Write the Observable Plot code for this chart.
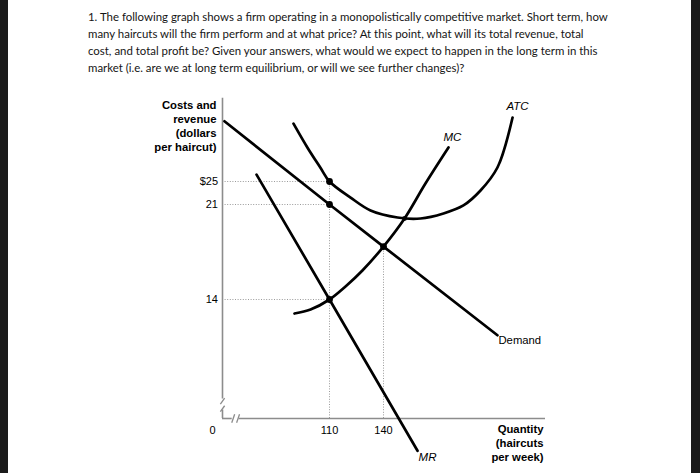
<!DOCTYPE html>
<html><head><meta charset="utf-8">
<script src="https://cdn.jsdelivr.net/npm/d3@7"></script>
<script src="https://cdn.jsdelivr.net/npm/@observablehq/plot@0.6"></script>
<style>
html,body{margin:0;padding:0;background:#1b1b1b;}
#page{position:relative;width:700px;height:473px;overflow:hidden;background:#1b1b1b;}
#panel{position:absolute;left:8px;top:0;width:683px;height:473px;background:#fff;}
#q{position:absolute;left:88px;top:0;font-family:Lato,sans-serif;color:#151515;white-space:nowrap;}
#q div{position:absolute;left:0;}
#chart{position:absolute;left:0;top:90px;}
#chart svg{font-family:"Liberation Sans",Arial,sans-serif;}
</style></head><body>
<div id="page"><div id="panel"></div><div id="q"></div><div id="chart"></div></div>
<script>
// ---- text ----
const questionLines = [
  "1. The following graph shows a firm operating in a monopolistically competitive market. Short term, how",
  "many haircuts will the firm perform and at what price? At this point, what will its total revenue, total",
  "cost, and total profit be? Given your answers, what would we expect to happen in the long term in this",
  "market (i.e. are we at long term equilibrium, or will we see further changes)?"
];
const yTitle = "Costs and\nrevenue\n(dollars\nper haircut)";
const xTitle = "Quantity\n(haircuts\nper week)";

// ---- ticks (graph is not drawn to scale: piecewise axes) ----
const yTicks = [14, 21, 25];
const xTicks = [110, 140];
const yBreaks = [0, 14, 21, 25, 40];
const xBreaks = [0, 110, 140, 230];

// ---- curves (quantity, price) ----
const demandQ = [2, 110, 140, 203.3];
const demandP = [35.5, 21, 17.9, 9.8];
const mrQ = [35, 110, 158.9];
const mrP = [26.2, 14, -3.8];
const mcQ = [74.0, 90.5, 110, 118.9, 128.3, 140, 151.7, 163.3, 176.1];
const mcP = [12.35, 12.82, 14, 14.96, 16.14, 17.9, 19.97, 24.65, 30.93];
const atcQ = [73.0, 87.4, 100.7, 110, 121.7, 132.8, 147.8, 160.6, 173.3, 184.4, 193.9, 203.3, 211.7];
const atcP = [35.1, 30.9, 27.4, 25, 22.2, 20.56, 20.04, 19.97, 20.34, 20.93, 23.43, 27.44, 36.16];
const keyQ = [110, 110, 110, 140, 151.7];
const keyP = [25, 21, 14, 17.9, 19.97];

const toRows = (qs, ps) => qs.map((q, i) => ({q, p: ps[i]}));
const demand = toRows(demandQ, demandP);
const mr = toRows(mrQ, mrP);
const mc = toRows(mcQ, mcP);
const atc = toRows(atcQ, atcP);
const keys = toRows(keyQ, keyP);

// question text
const qDiv = document.getElementById("q");
const cv = document.createElement("canvas").getContext("2d");
cv.font = "100px Lato";
const w0 = cv.measureText(questionLines[0]).width;
const fs = 100 * 521 / w0;
const lineTops = [17, 34, 51, 68];
questionLines.forEach((t, i) => {
  const d = document.createElement("div");
  d.textContent = t;
  d.style.fontSize = fs + "px";
  d.style.lineHeight = "1";
  d.style.top = (lineTops[i] - fs * 0.55) + "px";
  qDiv.appendChild(d);
});

const axisColor = "#8c8c8c";
const gridStyle = {stroke: "#9a9a9a", strokeWidth: 1, strokeDasharray: "1,1.6"};
const curveStyle = {x: "q", y: "p", stroke: "#000", strokeWidth: 2.7};

const chart = Plot.plot({
  width: 700,
  height: 383,
  marginLeft: 222,
  marginRight: 155,
  marginTop: 5,
  marginBottom: 55,
  x: {type: "linear", domain: xBreaks, range: [222, 329, 383, 545]},
  y: {type: "linear", domain: yBreaks, range: [328, 209, 114, 91, 5]},
  marks: [
    // dotted guides
    Plot.ruleY(yTicks, {y: d => d, x1: 0, x2: 110, ...gridStyle}),
    Plot.ruleX([{q: 110, p: 25}, {q: 140, p: 17.9}], {x: "q", y1: 0, y2: "p", ...gridStyle}),
    // axes with breaks
    Plot.ruleX([0], {y1: 0, y2: 1.0, stroke: axisColor, strokeWidth: 1.6}),
    Plot.ruleX([0], {y1: 2.3, y2: 39.5, stroke: axisColor, strokeWidth: 1.6}),
    Plot.ruleY([0], {x1: 0, x2: 10, stroke: axisColor, strokeWidth: 1.6}),
    Plot.ruleY([0], {x1: 17, x2: 230, stroke: axisColor, strokeWidth: 1.6}),
    Plot.link([{a: -2.2, b: 2.2, c: 0.8, d: 1.5}, {a: -2.2, b: 2.2, c: 1.7, d: 2.4}],
      {x1: "a", x2: "b", y1: "c", y2: "d", stroke: axisColor, strokeWidth: 1.3}),
    Plot.link([{a: 9.5, b: 12.5, c: -0.5, d: 0.5}, {a: 14.5, b: 17.5, c: -0.5, d: 0.5}],
      {x1: "a", x2: "b", y1: "c", y2: "d", stroke: axisColor, strokeWidth: 1.3}),
    // curves
    Plot.line(demand, curveStyle),
    Plot.line(mr, curveStyle),
    Plot.line(mc, {...curveStyle, curve: "catmull-rom"}),
    Plot.line(atc, {...curveStyle, curve: "catmull-rom"}),
    Plot.dot(keys.slice(0, 4), {x: "q", y: "p", r: 3.4, fill: "#000"}),
    Plot.dot(keys.slice(4), {x: "q", y: "p", r: 2.4, fill: "#000"}),
    // tick labels
    Plot.axisY({ticks: yTicks, tickSize: 0, tickPadding: 4.5, fontSize: 11, tickFormat: d => d === 25 ? "$25" : String(d)}),
    Plot.axisX({ticks: xTicks, tickSize: 0, tickPadding: 8, fontSize: 11}),
    Plot.text([{q: 0, p: 0}], {x: "q", y: "p", text: () => "0", dx: -10, dy: 12, fontSize: 11}),
    // titles
    Plot.text([{q: 0, p: 39.5}], {x: "q", y: "p", text: () => yTitle, textAnchor: "end", lineAnchor: "top", dx: -6, dy: 1, fontSize: 11.3, fontWeight: "bold", lineHeight: 1.22}),
    Plot.text([{q: 230, p: 0}], {x: "q", y: "p", text: () => xTitle, textAnchor: "end", lineAnchor: "top", dx: -2, dy: 5, fontSize: 11.3, fontWeight: "bold", lineHeight: 1.24}),
    // curve labels
    Plot.text(atc.slice(-1), {x: "q", y: "p", text: () => "ATC", dx: 5, dy: -11, fontSize: 11.5, fontStyle: "italic"}),
    Plot.text(mc.slice(-1), {x: "q", y: "p", text: () => "MC", dx: 4, dy: -10, fontSize: 11.5, fontStyle: "italic"}),
    Plot.text(demand.slice(-1), {x: "q", y: "p", text: () => "Demand", textAnchor: "start", dx: 1, dy: 5, fontSize: 11.3}),
    Plot.text(mr.slice(-1), {x: "q", y: "p", text: () => "MR", dx: 10, dy: 7, fontSize: 11.5, fontStyle: "italic"})
  ]
});
document.getElementById("chart").appendChild(chart);
</script>
</body></html>
